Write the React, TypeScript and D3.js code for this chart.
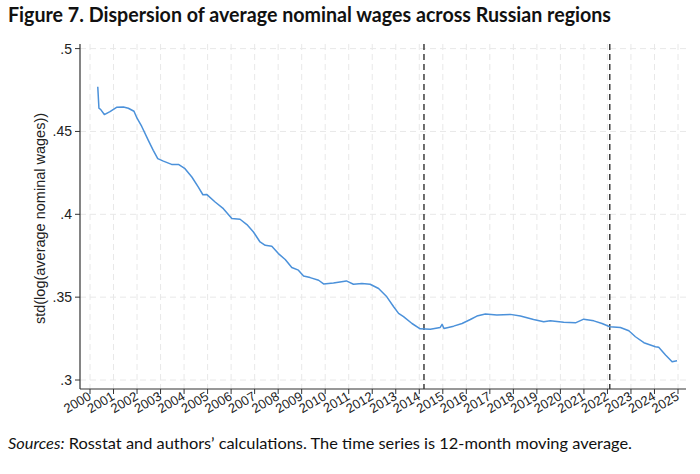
import React from "react";
import * as d3 from "d3";

const years = d3.range(2000, 2026).map(String);
const yTicks = [0.3, 0.35, 0.4, 0.45, 0.5];
const yTickLabels = [".3", ".35", ".4", ".45", ".5"];
const eventYears = [2014.2, 2022.1];

const dates = [
  2000.33, 2000.38, 2000.45, 2000.61, 2000.85, 2001.13, 2001.42, 2001.63, 2001.87, 2002.0,
  2002.2, 2002.48, 2002.69, 2002.88, 2003.12, 2003.47, 2003.76, 2004.04, 2004.33, 2004.6,
  2004.8, 2004.96, 2005.32, 2005.67, 2006.03, 2006.38, 2006.67, 2006.95, 2007.23, 2007.45,
  2007.73, 2008.01, 2008.3, 2008.58, 2008.86, 2009.08, 2009.36, 2009.72, 2009.93, 2010.35,
  2010.9, 2011.2, 2011.56, 2011.91, 2012.27, 2012.62, 2012.91, 2013.12, 2013.33, 2013.69,
  2014.04, 2014.47, 2014.89, 2014.97, 2015.05, 2015.46, 2015.82, 2016.17, 2016.45, 2016.81,
  2017.3, 2017.87, 2018.3, 2018.86, 2019.29, 2019.57, 2020.14, 2020.64, 2020.99, 2021.42,
  2021.77, 2022.1, 2022.55, 2022.91, 2023.19, 2023.55, 2024.04, 2024.18, 2024.47, 2024.75,
  2024.96,
];
const values = [
  0.477, 0.464, 0.4633, 0.4602, 0.462, 0.4646, 0.4648, 0.464, 0.4622, 0.458,
  0.453, 0.4446, 0.4386, 0.4336, 0.4321, 0.4301, 0.4301, 0.4275, 0.4225, 0.4165,
  0.4118, 0.412, 0.4074, 0.4034, 0.3974, 0.397, 0.3938, 0.3893, 0.3833, 0.3813,
  0.3807, 0.3763, 0.3727, 0.3679, 0.3663, 0.3628, 0.3618, 0.3602, 0.358, 0.3586,
  0.3598, 0.3578, 0.3582, 0.3578, 0.3552, 0.3502, 0.3442, 0.3402, 0.3382, 0.3341,
  0.3309, 0.3306, 0.3317, 0.3336, 0.3311, 0.3325, 0.3341, 0.3365, 0.3386, 0.3398,
  0.3392, 0.3396, 0.3386, 0.3365, 0.3351, 0.3357, 0.3349, 0.3345, 0.3367, 0.3357,
  0.3341, 0.3321, 0.3317, 0.3297, 0.3261, 0.3225, 0.3201, 0.3197, 0.3151, 0.311,
  0.3116,
];

const W = 700;
const H = 474;
const axisLeft = 80;
const axisRight = 686;
const axisTop = 44;
const axisBottom = 389;

export default function App() {
  const x = d3.scaleLinear().domain([2000, 2025]).range([90, 678]);
  const y = d3.scaleLinear().domain([0.3, 0.5]).range([380, 48.6]);
  const pts = dates.map((d, i) => [d, values[i]] as [number, number]);
  const line = d3
    .line<[number, number]>()
    .x((d) => x(d[0]))
    .y((d) => y(d[1]))
    .curve(d3.curveLinear);

  const axisFont = "Liberation Sans, Arial, sans-serif";
  const textFont = "Lato, 'Open Sans', sans-serif";

  return (
    <div style={{ position: "fixed", left: 0, top: 0, background: "#fff" }}>
      <svg width={W} height={H} style={{ display: "block" }}>
        <rect x={0} y={0} width={W} height={H} fill="#fff" />
        <text
          x={8}
          y={22}
          fontFamily={textFont}
          fontWeight="bold"
          fontSize={20}
          fill="#111"
          textLength={603}
          lengthAdjust="spacingAndGlyphs"
        >
          Figure 7. Dispersion of average nominal wages across Russian regions
        </text>

        {/* grid */}
        {years.map((yr) => (
          <line
            key={"vg" + yr}
            x1={x(+yr)}
            x2={x(+yr)}
            y1={axisTop}
            y2={axisBottom}
            stroke="#e8e8e8"
            strokeWidth={1}
            strokeDasharray="6,4"
          />
        ))}
        {yTicks.map((t) => (
          <line
            key={"hg" + t}
            x1={axisLeft}
            x2={axisRight}
            y1={y(t)}
            y2={y(t)}
            stroke="#e8e8e8"
            strokeWidth={1}
            strokeDasharray="6,4"
          />
        ))}

        {/* event lines */}
        {eventYears.map((e) => (
          <line
            key={"ev" + e}
            x1={x(e)}
            x2={x(e)}
            y1={axisTop}
            y2={axisBottom}
            stroke="#222"
            strokeWidth={1.3}
            strokeDasharray="6,4"
          />
        ))}

        {/* series */}
        <path d={line(pts) || ""} fill="none" stroke="#4b91da" strokeWidth={1.5} strokeLinejoin="round" />

        {/* axes */}
        <line x1={axisLeft} x2={axisLeft} y1={axisTop} y2={axisBottom} stroke="#333" strokeWidth={1.2} />
        <line x1={axisLeft} x2={axisRight} y1={axisBottom} y2={axisBottom} stroke="#333" strokeWidth={1.2} />
        {yTicks.map((t, i) => (
          <g key={"yt" + t}>
            <line x1={axisLeft - 5} x2={axisLeft} y1={y(t)} y2={y(t)} stroke="#333" strokeWidth={1} />
            <text
              x={axisLeft - 8}
              y={y(t)}
              dy="0.35em"
              textAnchor="end"
              fontFamily={axisFont}
              fontSize={14}
              fill="#222"
            >
              {yTickLabels[i]}
            </text>
          </g>
        ))}
        {years.map((yr) => (
          <g key={"xt" + yr}>
            <line x1={x(+yr)} x2={x(+yr)} y1={axisBottom} y2={axisBottom + 5} stroke="#333" strokeWidth={1} />
            <text
              transform={`translate(${x(+yr) + 2},${axisBottom + 10}) rotate(-30)`}
              textAnchor="end"
              fontFamily={axisFont}
              fontSize={13}
              fill="#222"
            >
              {yr}
            </text>
          </g>
        ))}
        <text
          transform={`translate(45,${(axisTop + axisBottom) / 2 + 2}) rotate(-90)`}
          textAnchor="middle"
          fontFamily={axisFont}
          fontSize={14.5}
          fill="#222"
        >
          std(log(average nominal wages))
        </text>

        <text x={8} y={449} fontFamily={textFont} fontSize={16} fill="#111" textLength={624} lengthAdjust="spacingAndGlyphs">
          <tspan fontStyle="italic">Sources:</tspan> Rosstat and authors’ calculations. The time series is 12-month moving average.
        </text>
      </svg>
    </div>
  );
}
